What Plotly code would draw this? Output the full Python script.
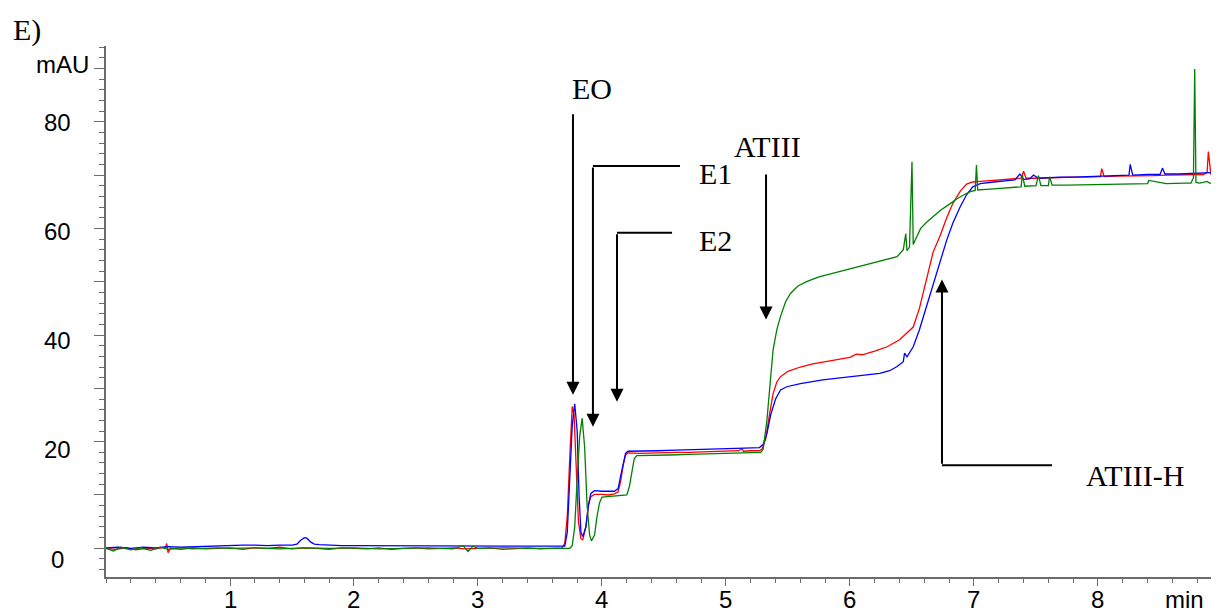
import plotly.graph_objects as go

# ---------------- data ----------------
red_t = [0.00, 0.08, 0.16, 0.24, 0.32, 0.40, 0.48, 0.49, 0.50, 0.52, 0.60, 0.70, 0.80, 0.90,
         1.00, 1.10, 1.20, 1.30, 1.40, 1.50, 1.60, 1.70, 1.80, 1.90, 2.00, 2.10, 2.20, 2.30,
         2.40, 2.50, 2.60, 2.70, 2.80, 2.90, 3.00, 3.10, 3.20, 3.30, 3.40, 3.50, 3.60, 3.68,
         3.70, 3.72, 3.74, 3.76, 3.775, 3.79, 3.81, 3.83, 3.845, 3.87, 3.89, 3.91, 3.94, 4.00,
         4.05, 4.10, 4.13, 4.15, 4.17, 4.19, 4.21, 4.30, 4.40, 4.50, 4.60, 4.70, 4.80, 4.90,
         5.00, 5.10, 5.13, 5.14, 5.20, 5.27, 5.29, 5.32, 5.35, 5.38, 5.41, 5.44, 5.50, 5.60,
         5.70, 5.80, 5.90, 6.00, 6.05, 6.10, 6.20, 6.24, 6.30, 6.40, 6.46, 6.51, 6.56, 6.62,
         6.67, 6.73, 6.78, 6.83, 6.89, 6.94, 6.99, 7.05, 7.10, 7.16, 7.25, 7.33, 7.38, 7.40,
         7.42, 7.50, 7.60, 7.70, 7.80, 7.90, 7.96, 8.02, 8.03, 8.05, 8.15, 8.25, 8.35, 8.45,
         8.55, 8.65, 8.75, 8.85, 8.88, 8.89, 8.91, 8.98]
red_v = [0.0, -0.2, 0.1, -0.3, 0.0, -0.1, 0.2, 0.9, -0.8, 0.0, -0.2, 0.1, -0.1, 0.0,
         0.1, -0.2, 0.1, 0.0, 0.2, -0.1, 0.1, 0.0, -0.2, 0.1, 0.0, -0.1, 0.1, -0.2,
         0.0, 0.1, -0.1, 0.0, 0.1, -0.1, 0.0, 0.1, -0.2, 0.0, 0.1, -0.1, 0.0, 0.1,
         1.0, 6.0, 17.0, 26.6, 25.0, 15.0, 5.0, 1.8, 1.6, 4.0, 8.0, 9.7, 10.1, 10.1,
         10.0, 10.2, 10.6, 12.5, 15.5, 17.5, 17.9, 17.8, 17.9, 17.9, 18.0, 18.0, 18.1, 18.1,
         18.3, 18.3, 18.7, 18.2, 18.3, 18.3, 18.6, 20.5, 25.0, 29.0, 31.2, 32.2, 33.2, 34.0,
         34.6, 35.0, 35.4, 35.8, 36.4, 36.3, 37.0, 37.3, 37.8, 39.1, 40.5, 41.5, 45.0, 51.0,
         55.5, 58.8, 62.0, 64.7, 67.0, 68.3, 68.7, 68.8, 68.9, 69.1, 69.2, 69.3, 69.4, 70.7,
         69.4, 69.4, 69.5, 69.5, 69.6, 69.6, 69.7, 69.7, 71.2, 69.7, 69.8, 69.8, 69.9, 69.9,
         70.0, 70.0, 70.1, 70.1, 70.5, 74.4, 70.2, 70.2]

blue_t = [0.00, 0.10, 0.20, 0.30, 0.40, 0.50, 0.60, 0.70, 0.80, 0.90, 1.00, 1.10, 1.20, 1.30,
          1.40, 1.50, 1.54, 1.57, 1.60, 1.62, 1.65, 1.68, 1.72, 1.80, 1.90, 2.00, 2.20, 2.40,
          2.60, 2.80, 3.00, 3.20, 3.40, 3.60, 3.70, 3.72, 3.74, 3.76, 3.78, 3.80, 3.815, 3.83,
          3.845, 3.87, 3.89, 3.91, 3.94, 4.00, 4.10, 4.13, 4.15, 4.17, 4.19, 4.21, 4.30, 4.45,
          4.60, 4.80, 5.00, 5.15, 5.27, 5.30, 5.33, 5.36, 5.40, 5.44, 5.49, 5.60, 5.78, 5.90,
          6.05, 6.15, 6.24, 6.32, 6.38, 6.43, 6.44, 6.46, 6.51, 6.56, 6.62, 6.67, 6.73, 6.78,
          6.83, 6.89, 6.94, 6.99, 7.05, 7.10, 7.16, 7.25, 7.33, 7.37, 7.40, 7.45, 7.48, 7.52,
          7.60, 7.70, 7.80, 7.90, 7.96, 8.05, 8.15, 8.25, 8.26, 8.28, 8.40, 8.50, 8.52, 8.54,
          8.65, 8.75, 8.85, 8.98]
blue_v = [0.1, 0.2, 0.0, 0.2, 0.1, 0.3, 0.2, 0.3, 0.4, 0.4, 0.5, 0.6, 0.6, 0.5,
          0.6, 0.6, 0.8, 1.5, 2.0, 1.9, 1.2, 0.8, 0.7, 0.6, 0.5, 0.5, 0.5, 0.4,
          0.5, 0.4, 0.5, 0.4, 0.5, 0.4, 0.4, 3.0, 12.0, 23.0, 27.1, 22.0, 10.0, 3.0,
          2.2, 4.0, 8.0, 10.3, 10.8, 10.7, 10.7, 11.2, 13.5, 16.0, 17.8, 18.2, 18.2, 18.3,
          18.4, 18.5, 18.7, 18.8, 18.9, 19.5, 21.5, 25.0, 28.0, 29.7, 30.3, 30.9, 31.6, 31.9,
          32.2, 32.5, 32.8, 33.3, 34.1, 35.0, 36.6, 35.9, 37.8, 41.0, 45.5, 49.7, 54.0, 57.8,
          61.0, 64.1, 66.3, 67.8, 68.4, 68.6, 68.7, 68.9, 69.1, 70.2, 69.2, 69.3, 70.0, 69.4,
          69.5, 69.6, 69.6, 69.7, 69.7, 69.8, 69.9, 70.0, 72.0, 70.0, 70.1, 70.1, 71.3, 70.2,
          70.2, 70.3, 70.4, 70.5]

green_t = [0.00, 0.06, 0.12, 0.20, 0.28, 0.36, 0.44, 0.50, 0.60, 0.70, 0.80, 0.90, 1.00, 1.20,
           1.40, 1.60, 1.80, 2.00, 2.20, 2.40, 2.60, 2.80, 2.88, 2.92, 2.96, 3.00, 3.20, 3.40,
           3.60, 3.70, 3.74, 3.76, 3.78, 3.80, 3.82, 3.84, 3.86, 3.88, 3.90, 3.915, 3.94, 3.96,
           3.98, 4.00, 4.05, 4.15, 4.20, 4.22, 4.24, 4.26, 4.28, 4.40, 4.55, 4.70, 4.85, 5.00,
           5.15, 5.28, 5.30, 5.33, 5.36, 5.38, 5.41, 5.44, 5.48, 5.52, 5.58, 5.65, 5.75, 5.92,
           6.05, 6.19, 6.30, 6.38, 6.43, 6.45, 6.46, 6.48, 6.50, 6.51, 6.53, 6.57, 6.62, 6.68,
           6.73, 6.80, 6.86, 6.92, 6.97, 7.01, 7.02, 7.03, 7.05, 7.10, 7.16, 7.25, 7.38, 7.39,
           7.41, 7.50, 7.52, 7.54, 7.60, 7.61, 7.63, 7.75, 7.90, 8.05, 8.20, 8.40, 8.41, 8.55,
           8.70, 8.75, 8.77, 8.78, 8.79, 8.82, 8.88, 8.90, 8.98]
green_v = [0.0, -0.5, 0.2, -0.3, 0.1, -0.4, 0.2, -0.2, 0.1, -0.1, 0.0, 0.1, 0.0, 0.1,
           -0.1, 0.1, 0.0, 0.1, -0.1, 0.0, 0.1, -0.1, 0.5, -0.6, 0.4, 0.0, 0.1, 0.0,
           0.0, 0.0, 0.0, 0.5, 4.0, 13.0, 21.0, 24.4, 19.0, 8.0, 2.5, 1.4, 2.5, 6.0,
           8.5, 9.6, 9.7, 9.8, 10.0, 11.5, 14.5, 16.8, 17.4, 17.4, 17.5, 17.6, 17.7, 17.8,
           17.9, 18.0, 18.6, 24.0, 32.0, 37.2, 41.0, 43.5, 46.2, 47.8, 49.2, 50.0, 50.9, 51.9,
           52.7, 53.5, 54.1, 54.7, 56.0, 59.0, 55.8, 56.5, 72.5, 57.0, 58.0, 60.0, 61.2, 62.5,
           63.4, 64.5, 65.5, 66.3, 66.9, 67.1, 71.9, 67.2, 67.2, 67.3, 67.4, 67.6, 67.8, 70.0,
           67.9, 68.0, 69.9, 68.0, 68.0, 69.7, 68.1, 68.1, 68.2, 68.3, 68.3, 68.4, 69.0, 68.4,
           68.5, 68.5, 69.5, 89.9, 68.6, 68.5, 68.8, 68.5, 68.5]

x_ticks = [1, 2, 3, 4, 5, 6, 7, 8]
y_label_vals = [0, 20, 40, 60, 80]

# ---------------- geometry ----------------
# the page body adds an 8px offset; margins compensate so the plot area
# lands at screen x 106..1219, y 46..577
OFF = 8
W, H = 1219, 611
PLOT_LEFT, PLOT_TOP, PLOT_BOTTOM = 106, 46, 577
PLOT_W = 1219 - PLOT_LEFT
PLOT_H = PLOT_BOTTOM - PLOT_TOP
L = PLOT_LEFT - OFF
T = PLOT_TOP - OFF
R = W - L - PLOT_W
B = H - T - PLOT_H
X_RANGE = [0, 8.976]
Y_RANGE = [-5.38, 94.2]


def py_to_paper(py):
    return (PLOT_BOTTOM - py) / PLOT_H


fig = go.Figure()
for t, v, c in [(red_t, red_v, "#FF0000"), (blue_t, blue_v, "#0000FF"), (green_t, green_v, "#008000")]:
    fig.add_trace(go.Scatter(x=t, y=v, mode="lines", line=dict(color=c, width=1.3),
                             showlegend=False, hoverinfo="skip"))

axis_col = "#6b6b6b"
fig.update_layout(
    width=W, height=H,
    margin=dict(l=L, r=R, t=T, b=B, pad=0, autoexpand=False),
    paper_bgcolor="white", plot_bgcolor="white",
    showlegend=False,
    xaxis=dict(range=X_RANGE, automargin=False, showgrid=False, zeroline=False, showline=True,
               linecolor=axis_col, linewidth=1.5, ticks="outside", ticklen=7, tickwidth=1.3,
               tickcolor=axis_col, tickvals=x_ticks, showticklabels=False,
               minor=dict(dtick=0.2, tick0=0, ticks="outside", ticklen=4, tickcolor=axis_col,
                          tickwidth=1.2)),
    yaxis=dict(range=Y_RANGE, automargin=False, showgrid=False, zeroline=False, showline=True,
               linecolor=axis_col, linewidth=1.5, ticks="outside", ticklen=10, tickwidth=1.3,
               tickcolor=axis_col, tickvals=[0, 10, 20, 30, 40, 50, 60, 70, 80, 90],
               showticklabels=False,
               minor=dict(dtick=2, tick0=0, ticks="outside", ticklen=5, tickcolor=axis_col,
                          tickwidth=1.2)),
)

sans = dict(family="Liberation Sans, Arial", size=24, color="black")
serif = dict(family="Liberation Serif, Times New Roman", size=30, color="black")

# y tick labels
label_px = [559, 449.9, 340.8, 231.7, 122.6]
for val, py in zip(y_label_vals, label_px):
    fig.add_annotation(text=str(val), xref="paper", yref="paper", x=0, y=py_to_paper(py),
                       xanchor="center", yanchor="middle", xshift=-49, showarrow=False, font=sans)
fig.add_annotation(text="mAU", xref="paper", yref="paper", x=0, y=py_to_paper(64),
                   xanchor="center", yanchor="middle", xshift=-44, showarrow=False, font=sans)
# x tick labels
for v in x_ticks:
    fig.add_annotation(text=str(v), xref="x", yref="paper", x=v, y=py_to_paper(599),
                       xanchor="center", yanchor="middle", showarrow=False, font=sans)
fig.add_annotation(text="min", xref="x", yref="paper", x=8.70, y=py_to_paper(599),
                   xanchor="center", yanchor="middle", showarrow=False, font=sans)
fig.add_annotation(text="E)", xref="paper", yref="paper", x=0, y=py_to_paper(30),
                   xanchor="center", yanchor="middle", xshift=-79, showarrow=False, font=serif)

# peak labels
labels = [("EO", 3.919, 86.3), ("E1", 4.919, 70.2), ("E2", 4.919, 57.7),
          ("ATIII", 5.331, 75.4), ("ATIII-H", 8.298, 13.6)]
for txt, x, y in labels:
    fig.add_annotation(text=txt, x=x, y=y, xref="x", yref="y", showarrow=False,
                       xanchor="center", yanchor="middle", font=serif)

# arrows: tip (x, y) and tail (ax, ay) in data coords
arrows = [(3.766, 28.8, 3.766, 81.7), (3.927, 22.8, 3.927, 71.7), (4.121, 27.5, 4.121, 59.2),
          (5.323, 42.9, 5.323, 70.4), (6.742, 50.4, 6.742, 15.6)]
for x, y, ax, ay in arrows:
    fig.add_annotation(x=x, y=y, ax=ax, ay=ay, xref="x", yref="y", axref="x", ayref="y",
                       text="", showarrow=True, arrowhead=2, arrowsize=1.3, arrowwidth=2,
                       arrowcolor="black")

# horizontal leader segments
for x0, x1, y in [(3.927, 4.629, 71.7), (4.121, 4.565, 59.2), (6.742, 7.629, 15.6)]:
    fig.add_shape(type="line", x0=x0, x1=x1, y0=y, y1=y, xref="x", yref="y",
                  line=dict(color="black", width=2))

fig.write_html("out.html")
